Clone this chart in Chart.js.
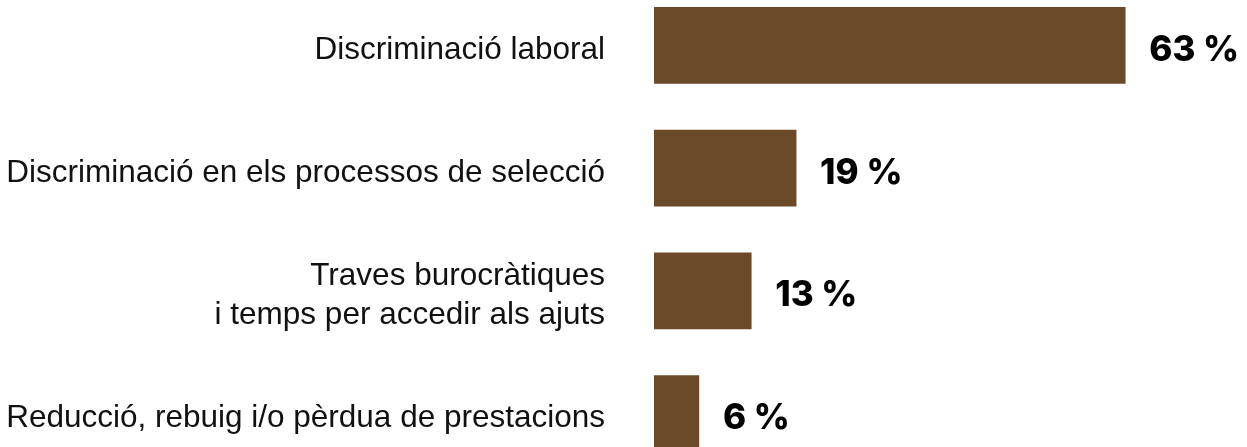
<!DOCTYPE html>
<html lang="ca">
<head>
<meta charset="utf-8">
<title>Obstacles</title>
<script src="https://cdn.jsdelivr.net/npm/chart.js@4.4.1/dist/chart.umd.min.js"></script>
<style>
  html, body { margin: 0; padding: 0; background: #ffffff; overflow: hidden; }
  #wrap { position: absolute; left: 0; top: -16px; width: 1247px; height: 491px; }
</style>
</head>
<body>
<div id="wrap"><canvas id="chart" width="1247" height="491"></canvas></div>
<script>
// Categories (multi-line labels as arrays) and their percentages
const categories = [
  "Discriminació laboral",
  "Discriminació en els processos de selecció",
  ["Traves burocràtiques", "i temps per accedir als ajuts"],
  "Reducció, rebuig i/o pèrdua de prestacions"
];
const percentages = [63, 19, 13, 6];
const valueSuffix = " %";

const BAR_COLOR = "#6b4a2a";

// Draws the percentage next to the end of each bar
const valueLabels = {
  id: "valueLabels",
  afterDatasetsDraw(chart) {
    const ctx = chart.ctx;
    const meta = chart.getDatasetMeta(0);
    ctx.save();
    ctx.font = "800 35px Inter";
    ctx.fillStyle = "#000000";
    ctx.textAlign = "left";
    ctx.textBaseline = "middle";
    meta.data.forEach((bar, i) => {
      ctx.fillText(percentages[i] + valueSuffix, bar.x + 24, bar.y + 5);
    });
    ctx.restore();
  }
};

new Chart(document.getElementById("chart"), {
  type: "bar",
  data: {
    labels: categories,
    datasets: [{
      data: percentages,
      backgroundColor: BAR_COLOR,
      borderWidth: 0,
      barThickness: 76
    }]
  },
  options: {
    indexAxis: "y",
    responsive: false,
    devicePixelRatio: 1,
    animation: false,
    layout: { padding: { left: 0, right: 32, top: 0, bottom: 0 } },
    plugins: {
      legend: { display: false },
      tooltip: { enabled: false }
    },
    scales: {
      x: {
        display: false,
        min: 0,
        max: 75
      },
      y: {
        grid: { display: false, drawTicks: false, tickLength: 0 },
        border: { display: false },
        ticks: {
          color: "#111111",
          padding: 49,
          labelOffset: 5,
          font: { family: "'Liberation Sans', Arial, sans-serif", size: 31.5, lineHeight: 1.25 }
        },
        afterFit(scale) {
          // fixed label column; no extra vertical padding from the tick labels
          scale.width = 654;
          scale.paddingTop = 0;
          scale.paddingBottom = 0;
        }
      }
    }
  },
  plugins: [valueLabels]
});
</script>
</body>
</html>
